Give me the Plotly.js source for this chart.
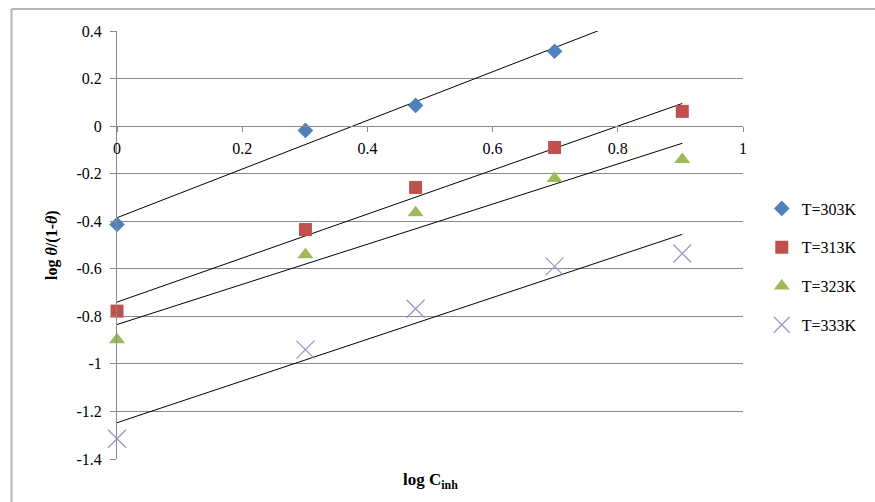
<!DOCTYPE html>
<html>
<head>
<meta charset="utf-8">
<script src="https://cdn.plot.ly/plotly-3.0.1.min.js"></script>
<style>html,body{margin:0;padding:0;background:#fff;}#chart{width:875px;height:502px;}</style>
</head>
<body>
<div id="chart"></div>
<script>
// log C_inh values
const logC = [0, 0.301, 0.477, 0.699, 0.903];
const logC303 = [0, 0.301, 0.477, 0.699];
// log theta/(1-theta) values
const y303 = [-0.414, -0.018, 0.087, 0.315];
const y313 = [-0.778, -0.435, -0.258, -0.09, 0.062];
const y323 = [-0.898, -0.541, -0.364, -0.22, -0.14];
const y333 = [-1.315, -0.94, -0.768, -0.59, -0.536];
const seriesNames = ['T=303K', 'T=313K', 'T=323K', 'T=333K'];
const yTickVals = [0.4, 0.2, 0, -0.2, -0.4, -0.6, -0.8, -1, -1.2, -1.4];
const yTickText = ['0.4', '0.2', '0', '-0.2', '-0.4', '-0.6', '-0.8', '-1', '-1.2', '-1.4'];
const xTickVals = [0, 0.2, 0.4, 0.6, 0.8, 1];
const xTickText = ['0', '0.2', '0.4', '0.6', '0.8', '1'];

function fit(xs, ys) {
  const n = xs.length;
  const mx = xs.reduce((a, b) => a + b, 0) / n;
  const my = ys.reduce((a, b) => a + b, 0) / n;
  let sxy = 0, sxx = 0;
  for (let i = 0; i < n; i++) { sxy += (xs[i] - mx) * (ys[i] - my); sxx += (xs[i] - mx) ** 2; }
  const b = sxy / sxx;
  return [my - b * mx, b];
}
const lineEnd = [0, 0.903];
function trend(xs, ys) {
  const [a, b] = fit(xs, ys);
  return {
    x: lineEnd, y: lineEnd.map(v => a + b * v), mode: 'lines', type: 'scatter',
    line: {color: '#000', width: 1}, showlegend: false, hoverinfo: 'skip'
  };
}

const serif = 'Liberation Serif, Times New Roman, serif';
const data = [
  trend(logC303, y303), trend(logC, y313), trend(logC, y323), trend(logC, y333),
  {x: logC303, y: y303, name: seriesNames[0], mode: 'markers', type: 'scatter', legendgroup: 'a', cliponaxis: false,
   marker: {symbol: 'diamond', size: 12, color: '#4F81BD'}},
  {x: logC, y: y313, name: seriesNames[1], mode: 'markers', type: 'scatter', legendgroup: 'b', cliponaxis: false,
   marker: {symbol: 'square', size: 13, color: '#C0504D'}},
  {x: logC, y: y323, name: seriesNames[2], mode: 'markers', type: 'scatter', legendgroup: 'c', cliponaxis: false,
   marker: {symbol: 'triangle-up', size: 14, color: '#9BBB59'}},
  {x: logC, y: y333, name: seriesNames[3], mode: 'markers', type: 'scatter', legendgroup: 'd', cliponaxis: false,
   marker: {symbol: 'x-thin', size: 18, color: '#A393C6', line: {color: '#A393C6', width: 1.3}}}
];

const layout = {
  width: 875, height: 502,
  margin: {l: 117, r: 132, t: 31, b: 43},
  paper_bgcolor: '#fff', plot_bgcolor: '#fff',
  font: {family: serif, size: 14, color: '#000'},
  showlegend: true,
  legend: {x: 1.03, y: 0.625, xanchor: 'left', yanchor: 'top', traceorder: 'grouped',
           tracegroupgap: 15, font: {family: serif, size: 16, color: '#000'}, bgcolor: 'rgba(0,0,0,0)',
           itemwidth: 30},
  xaxis: {range: [0, 1], anchor: 'free', position: 1.4 / 1.8, showgrid: false, zeroline: false,
          showline: true, linecolor: '#8a8a8a', linewidth: 1,
          ticks: 'outside', ticklen: 5, tickcolor: '#8a8a8a', ticklabelstandoff: 3,
          tickvals: xTickVals, ticktext: xTickText, tickfont: {family: serif, size: 16, color: '#000'}},
  yaxis: {range: [-1.4, 0.4], showgrid: true, gridcolor: '#8a8a8a', gridwidth: 1, zeroline: false,
          showline: true, linecolor: '#8a8a8a', linewidth: 1,
          ticks: 'outside', ticklen: 6, tickcolor: '#8a8a8a', ticklabelstandoff: 5,
          tickvals: yTickVals, ticktext: yTickText, tickfont: {family: serif, size: 16, color: '#000'}},
  annotations: [
    {text: '<b>log C<sub>inh</sub></b>', xref: 'paper', yref: 'paper', x: 0.5, y: -0.022,
     xanchor: 'center', yanchor: 'top', showarrow: false, font: {family: serif, size: 17, color: '#000'}},
    {text: '<b>log <i>θ</i>/(1-<i>θ</i>)</b>', xref: 'paper', yref: 'paper', x: -0.104, y: 0.5,
     xanchor: 'center', yanchor: 'middle', textangle: -90, showarrow: false,
     font: {family: serif, size: 16, color: '#000'}}
  ],
  shapes: [
    {type: 'line', xref: 'paper', yref: 'paper', x0: -0.1685, x1: 1.3, y0: 1.0514, y1: 1.0514,
     line: {color: '#b4b4b4', width: 2}},
    {type: 'line', xref: 'paper', yref: 'paper', x0: -0.1685, x1: -0.1685, y0: -0.2, y1: 1.0514,
     line: {color: '#b4b4b4', width: 2}}
  ]
};

Plotly.newPlot('chart', data, layout, {displayModeBar: false, staticPlot: true});
</script>
</body>
</html>
